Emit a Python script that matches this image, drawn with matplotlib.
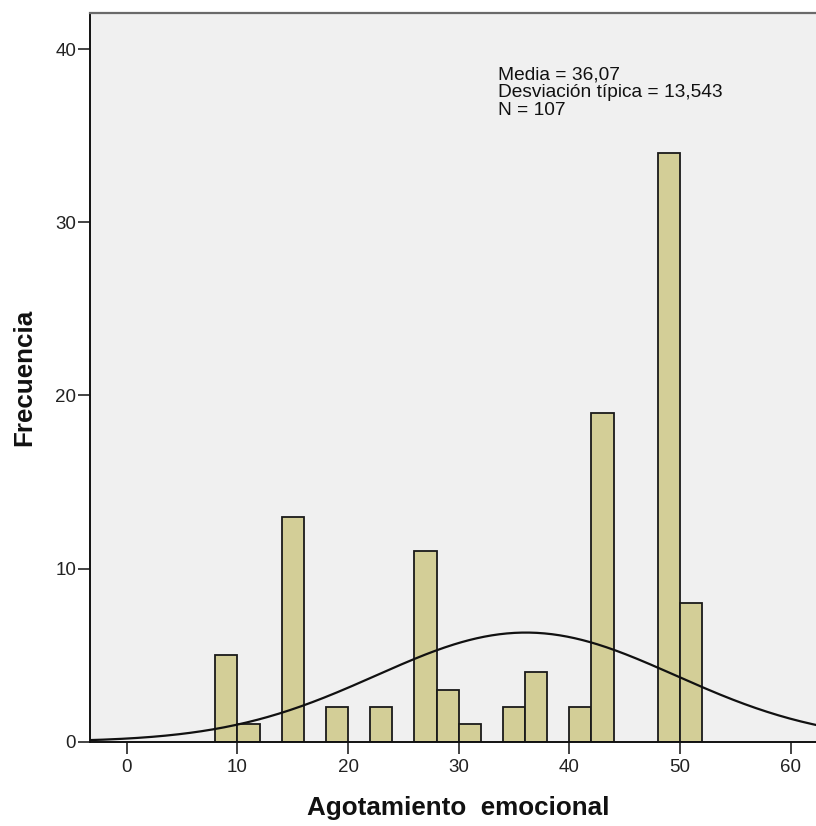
import numpy as np
import matplotlib
matplotlib.use("Agg")
import matplotlib.pyplot as plt

# histograma de agotamiento emocional (bins de ancho 2)
bin_left = [8, 10, 14, 18, 22, 26, 28, 30, 34, 36, 40, 42, 48, 50]
frecuencia = [5, 1, 13, 2, 2, 11, 3, 1, 2, 4, 2, 19, 34, 8]
ancho = 2

media = 36.07
desv = 13.543
n = 107

plt.rcParams['font.family'] = ['Liberation Sans', 'DejaVu Sans']

fig = plt.figure(figsize=(8.16, 8.26), dpi=100)
ax = fig.add_axes([90 / 816, 84.3 / 826, 726 / 816, 729 / 826])
ax.set_facecolor('#F0F0F0')

ax.bar(bin_left, frecuencia, width=ancho, align='edge',
       color='#D3CE97', edgecolor='#1a1a1a', linewidth=1.3, zorder=2)

# curva normal escalada a frecuencias
xs = np.linspace(-4, 64, 400)
ys = n * ancho * np.exp(-0.5 * ((xs - media) / desv) ** 2) / (desv * np.sqrt(2 * np.pi))
ax.plot(xs, ys, color='#111111', linewidth=1.6, zorder=3)

ax.set_xlim(-3.32, 62.29)
ax.set_ylim(0, 42.11)
ax.set_xticks([0, 10, 20, 30, 40, 50, 60])
ax.set_yticks([0, 10, 20, 30, 40])

ax.spines['right'].set_visible(False)
ax.spines['top'].set_color('#6a6a6a')
ax.spines['top'].set_linewidth(1.6)
ax.spines['left'].set_linewidth(1.4)
ax.spines['bottom'].set_linewidth(1.4)
ax.spines['left'].set_color('#111111')
ax.spines['bottom'].set_color('#111111')
ax.spines['bottom'].set_zorder(4)

ax.tick_params(axis='both', direction='out', length=8.5, width=1.1,
               color='#111111', labelsize=13.5, labelcolor='#222222')
ax.tick_params(axis='y', pad=1.5)
ax.tick_params(axis='x', pad=4)

ax.text(33.55, 39.0, 'Media = 36,07\nDesviación típica = 13,543\nN = 107',
        fontsize=13.8, va='top', ha='left', linespacing=1.05, color='#111111')

fig.text(31 / 816, 1 - 377 / 826, 'Frecuencia', rotation=90, rotation_mode='anchor',
         ha='center', va='baseline', fontsize=18.7, fontweight='bold', color='#111111')
fig.text(458 / 816, 1 - 815 / 826, 'Agotamiento  emocional', ha='center', va='baseline',
         fontsize=18.7, fontweight='bold', color='#111111')

fig.savefig('out.png', dpi=100)
